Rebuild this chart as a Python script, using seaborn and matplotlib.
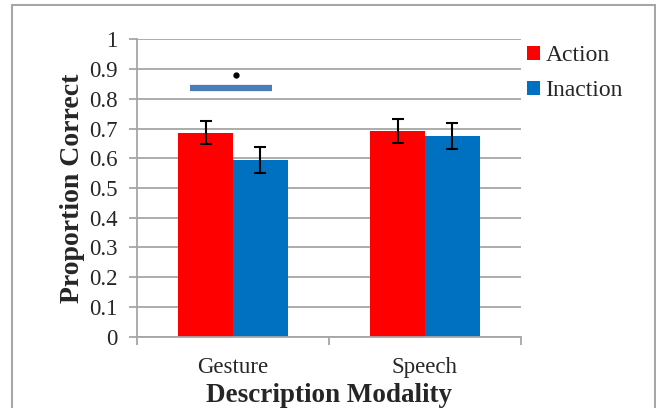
import numpy as np
import pandas as pd
import matplotlib
matplotlib.use("Agg")
import matplotlib.pyplot as plt
from matplotlib.patches import Rectangle
import seaborn as sns

# data
modality = ["Gesture", "Speech"]
conditions = ["Action", "Inaction"]
action_mean = [0.686, 0.692]
inaction_mean = [0.595, 0.675]
action_err = [0.038, 0.041]
inaction_err = [0.043, 0.044]
sig_y = 0.836
yticks = [0, 0.1, 0.2, 0.3, 0.4, 0.5, 0.6, 0.7, 0.8, 0.9, 1]
ytick_labels = ["0", "0.1", "0.2", "0.3", "0.4", "0.5", "0.6", "0.7", "0.8", "0.9", "1"]

df = pd.DataFrame({
  "Modality": modality * 2,
  "Condition": ["Action"] * 2 + ["Inaction"] * 2,
  "Proportion": action_mean + inaction_mean,
  "Err": action_err + inaction_err,
})

sns.set_style("white")
plt.rcParams["font.family"] = ["Liberation Serif", "DejaVu Serif"]

fig = plt.figure(figsize=(6.56, 4.08), dpi=100)
ax = fig.add_axes([0.2088, 0.1748, 0.5854, 0.7289])

pal = {"Action": "#FF0000", "Inaction": "#0070C0"}
sns.barplot(data=df, x="Modality", y="Proportion", hue="Condition",
            order=modality, hue_order=conditions, palette=pal,
            width=0.57, errorbar=None, saturation=1, linewidth=0, ax=ax)

# error bars at the bar centres
for cont, cond in zip(ax.containers, conditions):
  sub = df[df.Condition == cond].set_index("Modality").loc[modality]
  xs = [p.get_x() + p.get_width() / 2 for p in cont.patches]
  ax.errorbar(xs, sub.Proportion, yerr=sub.Err, fmt="none", ecolor="black",
              elinewidth=1.5, capsize=4.5, capthick=1.5, zorder=5)

# significance marker over Gesture
gp = ax.containers[0].patches[0]
bp = ax.containers[1].patches[0]
x0 = gp.get_x() + gp.get_width() * 0.22
x1 = bp.get_x() + bp.get_width() * 0.72
ax.plot([x0, x1], [sig_y, sig_y], color="#4A7EBB", lw=4.5, solid_capstyle="butt", zorder=4)
ax.plot([(gp.get_x() + gp.get_width() + bp.get_x()) / 2 + 0.015], [0.879], "o",
        color="black", ms=3.5, zorder=4)

ax.set_ylim(0, 1)
ax.set_xlim(-0.5, 1.5)
ax.set_yticks(yticks)
ax.set_yticklabels(ytick_labels)
ax.yaxis.grid(True, color="#A6A6A6", lw=1.3)
ax.set_axisbelow(True)
for s in ["top", "right"]:
  ax.spines[s].set_visible(False)
for s in ["left", "bottom"]:
  ax.spines[s].set_color("#A6A6A6")
  ax.spines[s].set_linewidth(1.3)

ax.tick_params(axis="y", which="major", left=True, length=6, width=1.3, color="#A6A6A6",
               labelsize=16.5, pad=8)
ax.tick_params(axis="x", which="major", bottom=False, labelsize=16.5, pad=11)
ax.set_xticks([-0.5, 0.5, 1.5], minor=True)
ax.tick_params(axis="x", which="minor", bottom=True, length=6, width=1.3, color="#A6A6A6")

ax.set_ylabel("Proportion Correct", fontsize=20, fontweight="bold", labelpad=3)
ax.set_xlabel("Description Modality", fontsize=19.5, fontweight="bold", labelpad=3.5)

leg = ax.legend(loc="upper left", bbox_to_anchor=(0.99, 1.011), frameon=False,
                fontsize=17, handlelength=0.55, handleheight=0.55, handletextpad=0.25,
                labelspacing=0.58, borderaxespad=0.0)

# outer chart border
fig.patches.append(Rectangle((12 / 656, -0.05), (655 - 12) / 656, (403 / 408) + 0.05,
                             transform=fig.transFigure, fill=False,
                             edgecolor="#A6A6A6", lw=1.5))

fig.savefig("out.png", dpi=100)
